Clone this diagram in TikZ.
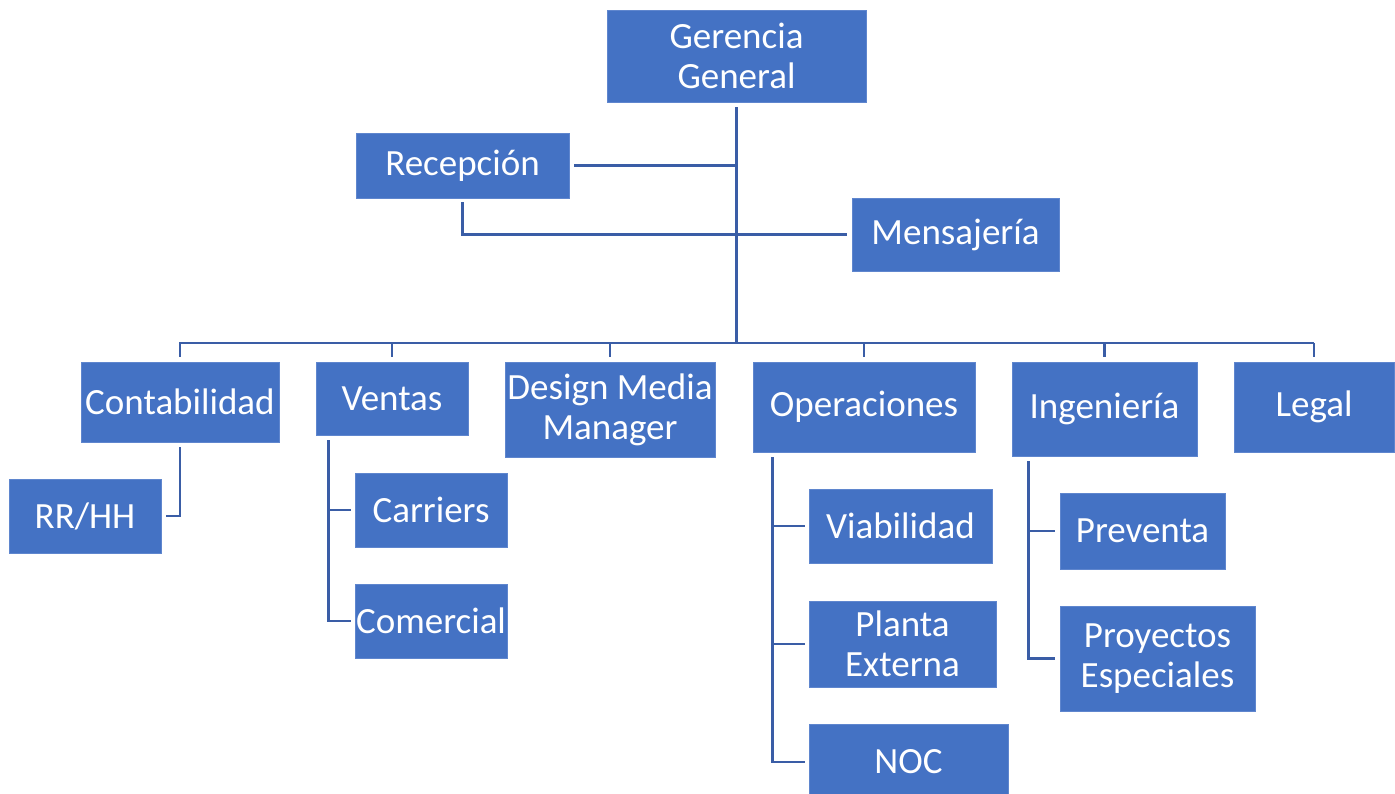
\documentclass[tikz,border=0pt]{standalone}
\usepackage{fontspec}
\setmainfont{Carlito}
\definecolor{boxblue}{HTML}{4472C4}
\definecolor{boxedge}{HTML}{5F86CE}
\definecolor{linkblue}{HTML}{3A5DA6}
\tikzset{
  orgbox/.style={fill=boxblue, draw=boxedge, line width=0.8pt, text=white, inner sep=0pt,
    align=center, font=\fontsize{37}{40}\selectfont},
  conn/.style={draw=linkblue, line width=2.8pt},
}
\begin{document}
\begin{tikzpicture}[x=1pt, y=-1pt]
\fill[white] (0,0) rectangle (1395,793);
\useasboundingbox (0,0) rectangle (1395,793);
\begin{scope}
\clip (0,0) rectangle (1395,793);
% nodes
\node[orgbox, minimum width=259, minimum height=92] (gg) at (736.5,56) {Gerencia\\General};
\node[orgbox, minimum width=213, minimum height=65] (rec) at (462.5,165.5) {Recepción};
\node[orgbox, minimum width=207, minimum height=73] (men) at (955.5,234.5) {Mensajería};
\node[orgbox, minimum width=198, minimum height=80] (con) at (180,402) {Contabilidad};
\node[orgbox, minimum width=152, minimum height=73] (ven) at (392,398.5) {Ventas};
\node[orgbox, minimum width=210, minimum height=95] (dmm) at (610,409.5) {Design Media\\Manager};
\node[orgbox, minimum width=222, minimum height=90] (ope) at (864,407) {Operaciones};
\node[orgbox, minimum width=185, minimum height=94] (ing) at (1104.5,409) {Ingeniería};
\node[orgbox, minimum width=160, minimum height=90] (leg) at (1314,407) {Legal};
\node[orgbox, minimum width=152, minimum height=74] (rrhh) at (85,516) {RR/HH};
\node[orgbox, minimum width=152, minimum height=74] (car) at (431,510) {Carriers};
\node[orgbox, minimum width=152, minimum height=74] (com) at (431,621) {Comercial};
\node[orgbox, minimum width=183, minimum height=74] (via) at (900.5,526) {Viabilidad};
\node[orgbox, minimum width=187, minimum height=86] (pla) at (902.5,644) {Planta\\Externa};
\node[orgbox, minimum width=199, minimum height=76] (noc) at (908.5,762) {NOC};
\node[orgbox, minimum width=165, minimum height=76] (pre) at (1142.5,531) {Preventa};
\node[orgbox, minimum width=195, minimum height=105] (pro) at (1157.5,658.5) {Proyectos\\Especiales};
% bus
\coordinate (busL) at (179,343);
\coordinate (busR) at (1314,343);
\draw[conn] (busL) -- (busR);
\draw[conn, shorten <=5pt] (gg.south) -- (gg.south |- busL);
\draw[conn, shorten <=5pt] (rec.east) -- (rec.east -| gg.south);
\draw[conn, shorten <=4pt, shorten >=5pt] (rec.south) |- (men.west);
% drops
\foreach \n in {con,ven,dmm,ope,ing,leg}{
  \draw[conn, shorten >=5pt] (\n.north |- busL) -- (\n.north);
}
% Contabilidad -> RR/HH
\draw[conn, shorten <=5pt, shorten >=5pt] (con.south) |- (rrhh.east);
% Ventas
\draw[conn, shorten <=5pt, shorten >=4pt] ([xshift=13pt]ven.south west) |- (com.west);
\draw[conn, shorten >=4pt] ([xshift=13pt]ven.south west |- car.west) -- (car.west);
% Operaciones
\draw[conn, shorten <=5pt, shorten >=4pt] ([xshift=20pt]ope.south west) |- (noc.west);
\draw[conn, shorten >=4pt] ([xshift=20pt]ope.south west |- via.west) -- (via.west);
\draw[conn, shorten >=4pt] ([xshift=20pt]ope.south west |- pla.west) -- (pla.west);
% Ingenieria
\draw[conn, shorten <=5pt, shorten >=5pt] ([xshift=17pt]ing.south west) |- (pro.west);
\draw[conn, shorten >=5pt] ([xshift=17pt]ing.south west |- pre.west) -- (pre.west);
\end{scope}
\end{tikzpicture}
\end{document}
